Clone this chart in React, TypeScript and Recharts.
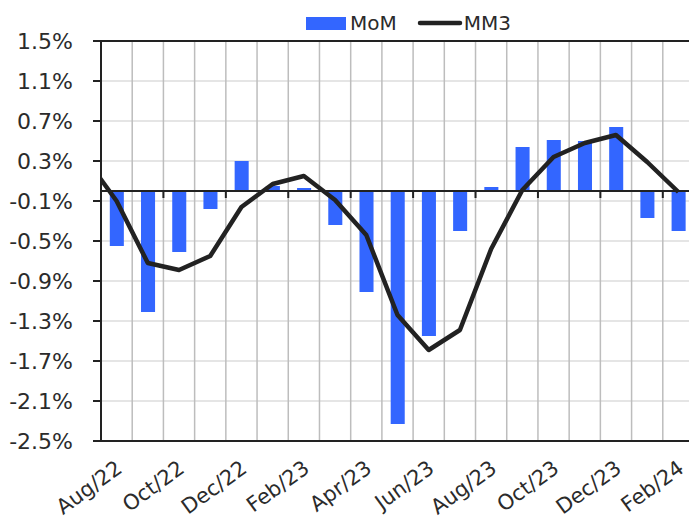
import { ComposedChart, Bar, Line, Scatter, XAxis, YAxis, CartesianGrid, ReferenceLine, Legend } from 'recharts'

const months = [
  'Aug/22', 'Sep/22', 'Oct/22', 'Nov/22', 'Dec/22', 'Jan/23', 'Feb/23', 'Mar/23', 'Apr/23', 'May/23',
  'Jun/23', 'Jul/23', 'Aug/23', 'Sep/23', 'Oct/23', 'Nov/23', 'Dec/23', 'Jan/24', 'Feb/24',
]
const mom = [-0.55, -1.21, -0.61, -0.18, 0.30, 0.05, 0.03, -0.34, -1.01, -2.33, -1.45, -0.40, 0.04, 0.44, 0.51, 0.50, 0.64, -0.27, -0.40]
const mm3 = [-0.10, -0.72, -0.79, -0.65, -0.16, 0.07, 0.15, -0.09, -0.44, -1.24, -1.59, -1.39, -0.58, 0.01, 0.34, 0.48, 0.56, 0.29, -0.01]
// Jul/22 MM3 sits just left of the plot, only its segment shows
const mm3Before = 0.33
const yTicks = [-2.5, -2.1, -1.7, -1.3, -0.9, -0.5, -0.1, 0.3, 0.7, 1.1, 1.5]

const FONT = '"DejaVu Sans", sans-serif'
const TEXT = '#2b2b2b'
const BLUE = '#3366ff'
const DARK = '#222222'

const rows = [
  { i: -1, mm3: mm3Before },
  ...months.map((m, i) => ({ i, month: m, mom: mom[i], mm3: mm3[i] })),
]
const labelTicks = months.map((_, i) => i).filter(i => i % 2 === 0)
const boundaries = months.slice(1).map((_, k) => k + 0.5)
const tickMarks = labelTicks.slice(1).map(i => ({ i: i - 0.5, v: 0 }))

function MonthTick({ x, y, payload }: any) {
  const tx = x - 2
  const ty = y + 18
  return (
    <text x={tx} y={ty} transform={`rotate(-36 ${tx} ${ty})`} textAnchor="end" dy="0.72em"
      fontFamily={FONT} fontSize={21} fill={TEXT}>
      {months[payload.value]}
    </text>
  )
}

function LegendBox() {
  return (
    <div style={{ display: 'flex', alignItems: 'center', height: 30, fontFamily: FONT, fontSize: 20, color: TEXT }}>
      <span style={{ width: 40, height: 13, background: BLUE, marginRight: 4 }} />
      <span>MoM</span>
      <svg width={46} height={8} style={{ marginLeft: 20 }}>
        <line x1={3} y1={4} x2={43} y2={4} stroke={DARK} strokeWidth={4.5} strokeLinecap="round" />
      </svg>
      <span style={{ marginLeft: 1 }}>MM3</span>
    </div>
  )
}

export default function App() {
  return (
    <div style={{ position: 'fixed', left: 0, top: 0, width: 689, height: 519, overflow: 'hidden', background: '#fff' }}>
      <ComposedChart width={694} height={519} data={rows} margin={{ top: 41, right: 0, bottom: 0, left: 0 }}>
        <CartesianGrid vertical={false} stroke="#dcdcdc" strokeWidth={1.5} />
        {boundaries.map(b => (
          <ReferenceLine key={b} x={b} stroke="#bdbdbd" strokeWidth={1.5} />
        ))}
        <XAxis
          dataKey="i" type="number" domain={[-0.5, 18.5]} allowDataOverflow
          ticks={labelTicks} interval={0} height={78}
          tickLine={false} tickSize={0} tickMargin={0}
          axisLine={{ stroke: DARK, strokeWidth: 2 }}
          tick={<MonthTick />}
        />
        <YAxis
          type="number" domain={[-2.5, 1.5]} ticks={yTicks} interval={0} width={101}
          tickSize={8} tickMargin={20}
          tickLine={{ stroke: DARK, strokeWidth: 2 }}
          axisLine={{ stroke: DARK, strokeWidth: 2 }}
          tick={{ fontFamily: FONT, fontSize: 22, fill: TEXT }}
          tickFormatter={(v: number) => `${v.toFixed(1)}%`}
        />
        <ReferenceLine y={1.5} stroke={DARK} strokeWidth={2} />
        <Bar dataKey="mom" name="MoM" fill={BLUE} barSize={16} isAnimationActive={false} />
        <ReferenceLine y={0} stroke={DARK} strokeWidth={2} />
        <Scatter
          data={tickMarks} dataKey="v" isAnimationActive={false} legendType="none"
          shape={(p: any) => <line x1={p.cx} x2={p.cx} y1={p.cy} y2={p.cy + 7} stroke={DARK} strokeWidth={2} />}
        />
        <Line
          type="linear" dataKey="mm3" name="MM3" stroke={DARK} strokeWidth={4.5}
          strokeLinejoin="round" dot={false} activeDot={false} isAnimationActive={false}
        />
        <Legend
          layout="horizontal" verticalAlign="middle" align="center"
          wrapperStyle={{ top: 8, left: 306, width: 240, height: 30 }}
          content={<LegendBox />}
        />
      </ComposedChart>
    </div>
  )
}
